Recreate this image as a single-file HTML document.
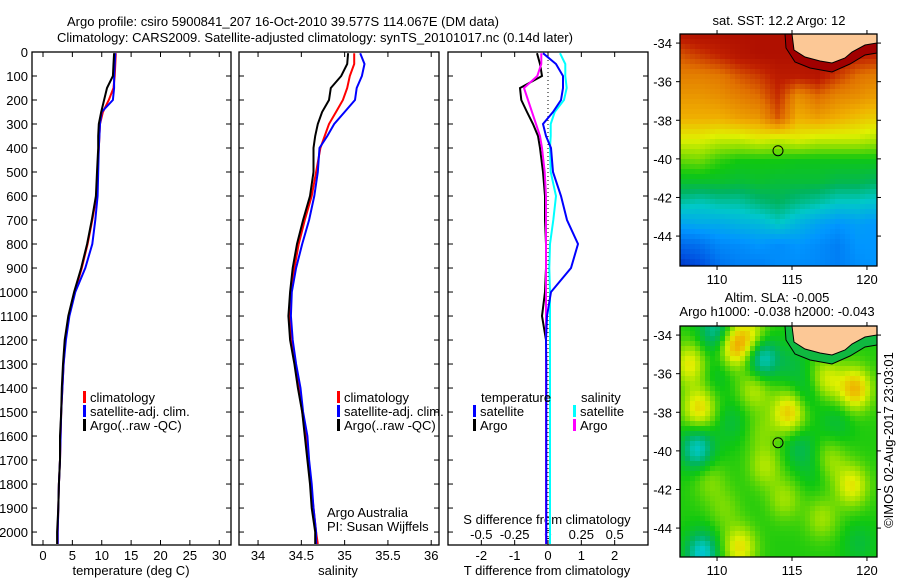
<!DOCTYPE html>
<html><head><meta charset="utf-8"><style>
body{margin:0;background:#fff;}
svg text{font-family:"Liberation Sans",sans-serif;font-size:13px;fill:#000;}
</style></head><body>
<svg id="svg" width="900" height="580" viewBox="0 0 900 580" xmlns="http://www.w3.org/2000/svg">
<text x="67" y="26">Argo profile: csiro 5900841_207 16-Oct-2010 39.577S 114.067E (DM data)</text>
<text x="57" y="42">Climatology: CARS2009. Satellite-adjusted climatology: synTS_20101017.nc (0.14d later)</text>
<text x="779" y="25" text-anchor="middle">sat. SST: 12.2 Argo: 12</text>
<text x="777" y="302" text-anchor="middle">Altim. SLA: -0.005</text>
<text x="777" y="316" text-anchor="middle">Argo h1000: -0.038 h2000: -0.043</text>
<text transform="translate(893,440) rotate(-90)" text-anchor="middle">©IMOS 02-Aug-2017 23:03:01</text>
<text x="131" y="575" text-anchor="middle">temperature (deg C)</text>
<text x="338" y="575" text-anchor="middle">salinity</text>
<text x="547" y="575" text-anchor="middle">T difference from climatology</text>
<text x="547" y="524" text-anchor="middle">S difference from climatology</text>
<text x="327" y="517">Argo Australia</text>
<text x="327" y="531">PI: Susan Wijffels</text>
<g id="plots"></g>
</svg>
<script>
// ---- data ----
const depth = [5,50,100,150,200,250,300,350,400,500,600,700,800,900,1000,1100,1200,1300,1400,1500,1600,1700,1800,1900,2000,2050];
const tempArgo = [12.1,12.0,11.9,10.9,10.4,9.9,9.5,9.4,9.4,9.2,9.0,8.3,7.5,6.5,5.3,4.3,3.7,3.4,3.2,3.1,2.9,2.9,2.7,2.6,2.4,2.4];
const tempClim = [12.4,12.3,12.2,12.0,11.2,10.2,9.7,9.6,9.5,9.3,9.1,8.4,7.6,6.6,5.4,4.4,3.8,3.5,3.3,3.1,3.0,2.9,2.7,2.6,2.5,2.5];
const tempSat = [12.3,12.2,12.1,12.1,11.9,10.0,9.7,9.6,9.5,9.4,9.3,8.9,8.4,7.2,5.5,4.5,3.9,3.5,3.3,3.1,3.0,2.9,2.7,2.6,2.5,2.5];
const salArgo = [35.04,35.03,34.96,34.84,34.82,34.74,34.69,34.66,34.64,34.64,34.60,34.52,34.45,34.40,34.37,34.35,34.37,34.42,34.46,34.51,34.54,34.57,34.60,34.62,34.66,34.66];
const salClim = [35.11,35.11,35.06,35.03,34.98,34.90,34.82,34.77,34.72,34.67,34.62,34.54,34.47,34.42,34.38,34.37,34.38,34.43,34.47,34.51,34.55,34.58,34.61,34.64,34.67,34.69];
const salSat = [35.18,35.23,35.20,35.14,35.12,35.00,34.88,34.80,34.71,34.69,34.65,34.59,34.51,34.44,34.39,34.38,34.40,34.44,34.49,34.52,34.57,34.59,34.62,34.64,34.67,34.67];
const tdiffSat = [-0.15,0.24,0.45,0.45,0.39,0.15,-0.15,-0.06,0.09,0.15,0.39,0.57,0.9,0.69,0.09,-0.03,-0.06,-0.05,-0.05,-0.05,-0.05,-0.05,-0.05,-0.05,-0.05,-0.05];
const tdiffArgo = [-0.33,-0.24,-0.18,-0.84,-0.8,-0.63,-0.45,-0.3,-0.24,-0.15,-0.09,-0.09,-0.06,-0.06,-0.09,-0.18,-0.06,-0.06,-0.06,-0.06,-0.06,-0.06,-0.06,-0.06,-0.06,-0.06];
const sdiffSat = [0.09,0.13,0.13,0.14,0.12,0.05,0.02,0.02,0.015,0.02,0.06,0.04,0.015,0.01,0.015,0.015,0.015,0.015,0.015,0.015,0.015,0.015,0.015,0.015,0.015,0.015];
const sdiffArgo = [-0.05,-0.05,-0.08,-0.18,-0.15,-0.12,-0.09,-0.06,-0.045,-0.025,-0.015,-0.015,-0.015,-0.015,-0.015,-0.015,-0.015,-0.015,-0.015,-0.015,-0.015,-0.015,-0.015,-0.015,-0.015,-0.015];
const depthTicks = [0,100,200,300,400,500,600,700,800,900,1000,1100,1200,1300,1400,1500,1600,1700,1800,1900,2000];
const tempTicks = [0,5,10,15,20,25,30];
const salTicks = [34,34.5,35,35.5,36];
const salTickLabels = ["34","34.5","35","35.5","36"];
const tdiffTicks = [-2,-1,0,1,2];
const sdiffTicks = [-0.5,-0.25,0,0.25,0.5];
const sdiffTickLabels = ["-0.5","-0.25","0","0.25","0.5"];
const latTicks = [-34,-36,-38,-40,-42,-44];
const lonTicks = [110,115,120];
const sstGrid = [
[0.96,0.97,0.97,0.97,0.97,0.97,0.97,0.97,0.97,0.97,0.97],
[0.90,0.92,0.94,0.96,0.97,0.97,0.97,0.97,0.96,0.95,0.94],
[0.86,0.86,0.87,0.9,0.92,0.95,0.95,0.96,0.92,0.88,0.86],
[0.83,0.83,0.84,0.86,0.88,0.93,0.84,0.88,0.85,0.84,0.82],
[0.8,0.8,0.8,0.82,0.83,0.9,0.8,0.82,0.8,0.78,0.76],
[0.72,0.72,0.7,0.7,0.72,0.7,0.72,0.7,0.7,0.7,0.68],
[0.63,0.64,0.6,0.58,0.58,0.58,0.57,0.57,0.57,0.57,0.57],
[0.55,0.55,0.55,0.54,0.55,0.54,0.54,0.54,0.52,0.52,0.5],
[0.45,0.43,0.45,0.45,0.48,0.5,0.47,0.45,0.42,0.42,0.4],
[0.33,0.35,0.35,0.37,0.38,0.42,0.37,0.33,0.3,0.32,0.3],
[0.2,0.22,0.27,0.28,0.3,0.28,0.3,0.28,0.25,0.3,0.3],
[0.1,0.14,0.22,0.25,0.25,0.28,0.28,0.27,0.25,0.28,0.3]];
const slaBlobLon = [109.9,111.2,112.3,113.0,108.2,117.3,119.2,108.8,114.8,112.5,108.7,115.5,113.2,117.5,119.0,114.5,117.0,109.0,111.5,119.5,110.5,116.0,111.0,110.0,115.0,118.0,113.0,116.5,109.5];
const slaBlobLat = [-33.8,-34.6,-34.0,-35.2,-35.5,-36.3,-36.8,-37.8,-38.0,-36.8,-39.9,-39.8,-40.8,-40.5,-41.8,-42.5,-43.5,-45.3,-45.0,-44.8,-43.0,-37.0,-38.5,-36.0,-35.5,-38.5,-39.0,-41.0,-41.5];
const slaBlobAmp = [-0.14,0.2,0.12,-0.18,0.14,0.12,0.2,0.16,0.18,0.1,-0.17,-0.07,0.09,0.08,0.14,0.08,0.08,-0.18,0.15,-0.05,0.05,-0.06,-0.05,-0.04,-0.05,-0.05,0.05,-0.04,0.06];
const argoLon = 114.067, argoLat = -39.577;

// ---- axes ----
const NS = "http://www.w3.org/2000/svg";
const root = document.getElementById('plots');
function mk(tag, attrs, parent){const e=document.createElementNS(NS,tag);for(const k in attrs)e.setAttribute(k,attrs[k]);(parent||root).appendChild(e);return e;}
const PT=52, PB=545, DMAX=2054;
const yP = d => PT + d/DMAX*(PB-PT);
const panels = [{x0:32,x1:231,min:-1.87,max:32.0},{x0:239,x1:439,min:33.78,max:36.09},{x0:448,x1:648,min:-3,max:3}];
const xT = v => panels[0].x0 + (v-panels[0].min)/(panels[0].max-panels[0].min)*(panels[0].x1-panels[0].x0);
const xS = v => panels[1].x0 + (v-panels[1].min)/(panels[1].max-panels[1].min)*(panels[1].x1-panels[1].x0);
const xD = v => panels[2].x0 + (v-panels[2].min)/(panels[2].max-panels[2].min)*(panels[2].x1-panels[2].x0);
const xSD = v => xD(v*4);

panels.forEach((p,i)=>{
  const r=mk('rect',{x:p.x0,y:PT,width:p.x1-p.x0,height:PB-PT,fill:'none',stroke:'#000','stroke-width':1.3});
  
  
  depthTicks.forEach(d=>{
    const y=yP(d);
    const t1=mk('line',{x1:p.x0,x2:p.x0+5,y1:y,y2:y,stroke:'#000'});
    
    
    const t2=mk('line',{x1:p.x1-5,x2:p.x1,y1:y,y2:y,stroke:'#000'});
    
    
  });
});
depthTicks.forEach(d=>{
  const t=mk('text',{x:28,y:yP(d)+5,'text-anchor':'end'});
  t.textContent=d;
  
  
});
function xticks(vals,labels,fx,y,name){
  vals.forEach((v,i)=>{
    const x=fx(v);
    const a=mk('line',{x1:x,x2:x,y1:PB,y2:PB-5,stroke:'#000'});
    
    
    const b=mk('line',{x1:x,x2:x,y1:PT,y2:PT+5,stroke:'#000'});
    
    
    if(labels){const t=mk('text',{x:x,y:y,'text-anchor':'middle'});t.textContent=labels[i];
    
    }
  });
}
xticks(tempTicks,tempTicks.map(String),xT,560,'temperature');
xticks(salTicks,salTickLabels,xS,560,'salinity');
xticks(tdiffTicks,tdiffTicks.map(String),xD,560,'tdiff');
sdiffTicks.forEach((v,i)=>{const t=mk('text',{x:xSD(v),y:539,'text-anchor':'middle'});t.textContent=sdiffTickLabels[i];

});
const zl=mk('line',{x1:xD(0),x2:xD(0),y1:PT,y2:PB,stroke:'#000','stroke-dasharray':'1,3'});



function series(vals,fx,color,name){
  const pts=vals.map((v,i)=>fx(v).toFixed(1)+','+yP(depth[i]).toFixed(1)).join(' ');
  const l=mk('polyline',{points:pts,fill:'none',stroke:color,'stroke-width':2});
  
  
}
series(tempClim,xT,'#ff0000','temp-climatology-line');
series(tempSat,xT,'#0000ff','temp-satellite-line');
series(tempArgo,xT,'#000000','temp-argo-line');
series(salClim,xS,'#ff0000','sal-climatology-line');
series(salSat,xS,'#0000ff','sal-satellite-line');
series(salArgo,xS,'#000000','sal-argo-line');
series(sdiffSat,xSD,'#00ffff','sdiff-satellite-line');
series(tdiffArgo,xD,'#000000','tdiff-argo-line');
series(sdiffArgo,xSD,'#ff00ff','sdiff-argo-line');
series(tdiffSat,xD,'#0000ff','tdiff-satellite-line');

function legend(x,y,color,label,name){
  const b=mk('rect',{x:x,y:y-11,width:3,height:12,fill:color});
  
  
  const t=mk('text',{x:x+7,y:y});t.textContent=label;
  
  
}
[[83,'t'],[337,'s']].forEach(([lx,p])=>{
  legend(lx,402,'#ff0000','climatology',p+'-legend-climatology');
  legend(lx,416,'#0000ff','satellite-adj. clim.',p+'-legend-satellite');
  legend(lx,430,'#000000','Argo(..raw -QC)',p+'-legend-argo');
});
let th=mk('text',{x:481,y:402});th.textContent='temperature';


let sh=mk('text',{x:581,y:402});sh.textContent='salinity';


legend(473,416,'#0000ff','satellite','diff-legend-t-satellite');
legend(473,430,'#000000','Argo','diff-legend-t-argo');
legend(573,416,'#00ffff','satellite','diff-legend-s-satellite');
legend(573,430,'#ff00ff','Argo','diff-legend-s-argo');

// ---- maps ----
const stops=[[0,[0,0,128]],[0.15,[0,80,224]],[0.3,[0,150,255]],[0.42,[0,200,200]],[0.5,[0,180,96]],[0.58,[16,200,16]],[0.66,[144,224,0]],[0.72,[224,240,0]],[0.8,[240,176,0]],[0.88,[224,112,0]],[0.94,[192,32,0]],[1,[160,0,0]]];
function cmap(v){v=Math.max(0,Math.min(1,v));for(let i=1;i<stops.length;i++){if(v<=stops[i][0]){const a=stops[i-1],b=stops[i],f=(v-a[0])/(b[0]-a[0]);return 'rgb('+a[1].map((c,k)=>Math.round(c+(b[1][k]-c)*f)).join(',')+')';}}return 'rgb(160,0,0)';}
const MX0=680,MX1=877,LON0=107.53,LON1=120.67;
const lonX = lo => MX0+(lo-LON0)/(LON1-LON0)*(MX1-MX0);
function drawMap(top,bot,valFn,name,coastFill){
  const LAT0=-33.53, LAT1=-33.53-(bot-top)/19.3;
  const latY = la => top+(la-LAT0)/(LAT1-LAT0)*(bot-top);
  const g=mk('g',{});
  
  
  const cs=5;
  for(let y=top;y<bot;y+=cs){for(let x=MX0;x<MX1;x+=cs){
    const fx=(x+cs/2-MX0)/(MX1-MX0), fy=(y+cs/2-top)/(bot-top);
    const c=mk('rect',{x:x,y:y,width:Math.min(cs,MX1-x)+0.3,height:Math.min(cs,bot-y)+0.3,fill:cmap(valFn(fx,fy))},g);
    
    
  }}
  const o=top-34;
  const contour=[[785,34],[786,48],[795,62],[810,68],[832,72],[850,64],[865,55],[877,53]].map(p=>[p[0],p[1]+o]);
  const land=[[792,34],[794,50],[805,57],[820,61],[832,63],[845,58],[852,52],[865,45],[877,43],[877,34]].map(p=>[p[0],p[1]+o]);
  if(coastFill){const cf=mk('polygon',{points:contour.concat([[877,34+o]]).map(p=>p.join(',')).join(' '),fill:coastFill},g);
    
    }
  const cl=mk('polyline',{points:contour.map(p=>p.join(',')).join(' '),fill:'none',stroke:'#000','stroke-width':1},g);
  
  
  const ld=mk('polygon',{points:land.map(p=>p.join(',')).join(' '),fill:'#fcc896',stroke:'#000','stroke-width':1},g);
  
  
  const fr=mk('rect',{x:MX0,y:top,width:MX1-MX0,height:bot-top,fill:'none',stroke:'#000','stroke-width':1.3},g);
  
  
  const ci=mk('circle',{cx:lonX(argoLon),cy:latY(argoLat),r:5,fill:'none',stroke:'#000','stroke-width':1},g);
  
  
  latTicks.forEach(la=>{const y=latY(la);
    const t=mk('text',{x:672,y:y+5,'text-anchor':'end'},g);t.textContent=la;
    
    
    const a=mk('line',{x1:MX0-4,x2:MX0,y1:y,y2:y,stroke:'#000'},g);
    
    
    const b=mk('line',{x1:MX1,x2:MX1+4,y1:y,y2:y,stroke:'#000'},g);
    
    
  });
  lonTicks.forEach(lo=>{const x=lonX(lo);
    const t=mk('text',{x:x,y:bot+18,'text-anchor':'middle'},g);t.textContent=lo;
    
    
    const a=mk('line',{x1:x,x2:x,y1:bot,y2:bot+4,stroke:'#000'},g);
    
    
    const b=mk('line',{x1:x,x2:x,y1:top-4,y2:top,stroke:'#000'},g);
    
    
  });
}
function sstVal(fx,fy){
  const R=sstGrid.length-1,C=sstGrid[0].length-1;
  const r=fy*R,c=fx*C,r0=Math.min(Math.floor(r),R-1),c0=Math.min(Math.floor(c),C-1),dr=r-r0,dc=c-c0;
  return sstGrid[r0][c0]*(1-dr)*(1-dc)+sstGrid[r0][c0+1]*(1-dr)*dc+sstGrid[r0+1][c0]*dr*(1-dc)+sstGrid[r0+1][c0+1]*dr*dc;
}
function slaVal(fx,fy){
  const lo=LON0+fx*(LON1-LON0), la=-33.53-fy*(231/19.3);
  let v=0.59;
  for(let i=0;i<slaBlobLon.length;i++){const d2=(lo-slaBlobLon[i])**2+(la-slaBlobLat[i])**2;v+=slaBlobAmp[i]*Math.exp(-d2/1.2);}
  return v;
}
drawMap(34,266,sstVal,'sst-map','#a00000');
drawMap(326,557,slaVal,'sla-map','#10b840');
</script>
</body></html>
